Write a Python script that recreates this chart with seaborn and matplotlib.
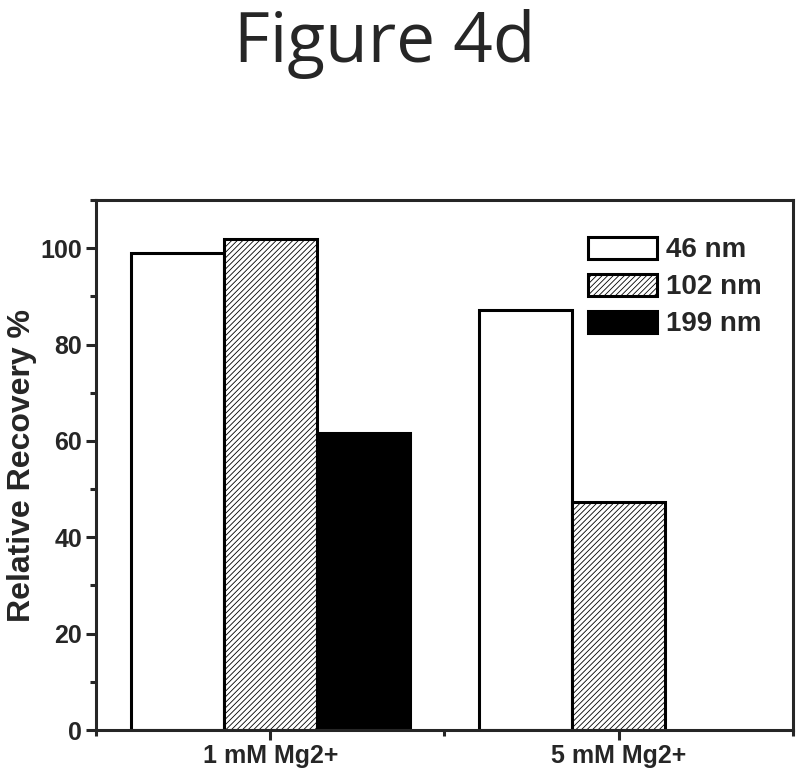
import numpy as np
import pandas as pd
import matplotlib
matplotlib.use("Agg")
import matplotlib.pyplot as plt
import seaborn as sns
from matplotlib.ticker import MultipleLocator, FixedLocator

# dados
condicoes = ["1 mM Mg2+", "5 mM Mg2+"]
tamanhos = ["46 nm", "102 nm", "199 nm"]
rec_46 = [99.0, 87.2]
rec_102 = [102.0, 47.3]
rec_199 = [61.7, np.nan]

base = pd.DataFrame({
    "Condicao": condicoes * 3,
    "Tamanho": [t for t in tamanhos for _ in condicoes],
    "Recuperacao": rec_46 + rec_102 + rec_199,
})

sns.set_style("ticks")
plt.rcParams["font.family"] = ["Liberation Sans", "DejaVu Sans"]
plt.rcParams["font.weight"] = "bold"
plt.rcParams["hatch.linewidth"] = 0.6

fig = plt.figure(figsize=(8, 7.81), dpi=100)
ax = fig.add_axes([0.12, 0.0653, 0.871, 0.6786])

cores = {"46 nm": "white", "102 nm": "white", "199 nm": "black"}
sns.barplot(data=base, x="Condicao", y="Recuperacao", hue="Tamanho",
            hue_order=tamanhos, order=condicoes, palette=cores,
            edgecolor="black", linewidth=2.2, saturation=1, width=0.8,
            legend=False, ax=ax)

# hachura na série de 102 nm
for p in ax.containers[1].patches:
    p.set_hatch("//////")

ax.set_xlim(-0.5, 1.5)
ax.set_ylim(0, 110)
ax.yaxis.set_major_locator(MultipleLocator(20))
ax.yaxis.set_minor_locator(FixedLocator([10, 30, 50, 70, 90, 110]))
ax.xaxis.set_minor_locator(FixedLocator([-0.5, 0.5, 1.5]))

for s in ax.spines.values():
    s.set_linewidth(2.2)
    s.set_visible(True)

ax.tick_params(which="major", length=7, width=2.2, direction="out",
               labelsize=18, pad=3)
ax.tick_params(which="minor", length=4.5, width=2.2, direction="out")
for lab in ax.get_xticklabels() + ax.get_yticklabels():
    lab.set_fontweight("bold")

ax.set_xlabel("")
ax.set_ylabel("Relative Recovery %", fontsize=23, fontweight="bold")
ax.yaxis.set_label_coords(-0.085, 0.5)

handles = [c.patches[0] for c in ax.containers]
leg = ax.legend(handles, tamanhos, loc="upper right",
                bbox_to_anchor=(0.971, 0.952), frameon=False,
                fontsize=20, handlelength=2.5, handleheight=0.86,
                handletextpad=0.3, labelspacing=0.37, borderaxespad=0)
for t in leg.get_texts():
    t.set_fontweight("bold")

fig.text(385 / 800, 1 - 62 / 781, "Figure 4d", fontsize=50,
         family=["Open Sans", "DejaVu Sans"], fontweight="normal",
         ha="center", va="baseline")

fig.savefig("out.png", dpi=100, facecolor="white")
